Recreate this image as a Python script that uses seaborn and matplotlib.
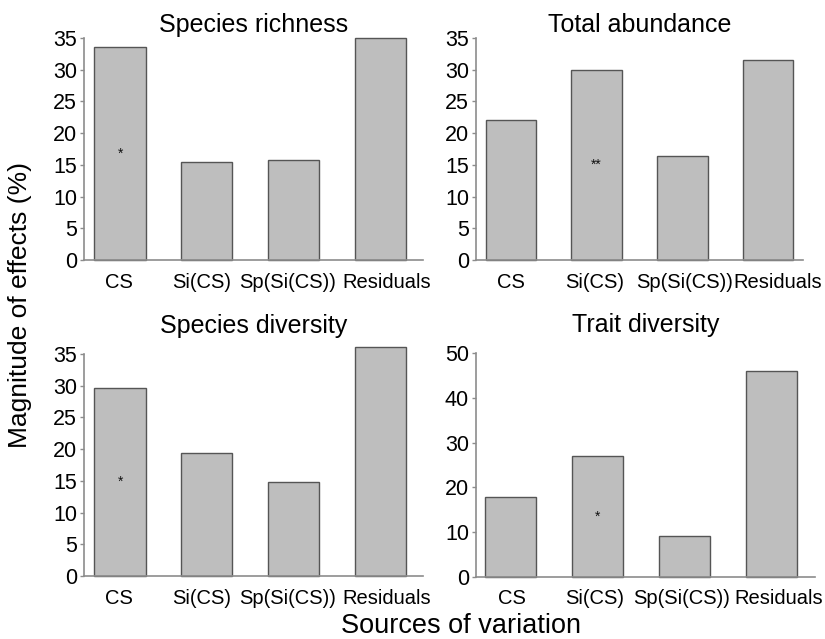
import matplotlib
matplotlib.use("Agg")
import matplotlib.pyplot as plt
import seaborn as sns
import pandas as pd

sns.set_style("white")
plt.rcParams['font.family'] = ['Liberation Sans', 'DejaVu Sans']
plt.rcParams['text.color'] = 'black'
plt.rcParams['xtick.labelcolor'] = 'black'
plt.rcParams['ytick.labelcolor'] = 'black'

sources = ["CS", "Si(CS)", "Sp(Si(CS))", "Residuals"]
titles = ["Species richness", "Total abundance", "Species diversity", "Trait diversity"]
richness = [33.6, 15.5, 15.8, 35.0]
abundance = [22.0, 29.9, 16.4, 31.6]
sp_diversity = [29.7, 19.4, 14.8, 36.1]
trait_diversity = [17.8, 27.1, 9.2, 45.9]
signif_richness = ["*", "", "", ""]
signif_abundance = ["", "**", "", ""]
signif_sp_diversity = ["*", "", "", ""]
signif_trait = ["", "*", "", ""]

panels = [
    (titles[0], richness, signif_richness, 35, 5),
    (titles[1], abundance, signif_abundance, 35, 5),
    (titles[2], sp_diversity, signif_sp_diversity, 35, 5),
    (titles[3], trait_diversity, signif_trait, 50, 10),
]

W, H = 825, 639
fig = plt.figure(figsize=(W / 100, H / 100), dpi=100)

# axes boxes in pixels: left, right, top, bottom
boxes = [(84, 423, 38, 260), (476, 803, 38, 260), (84, 423, 354, 576), (476, 815, 353, 577)]
xlims = [(-0.415, 3.49), (-0.41, 3.41), (-0.415, 3.49), (-0.40, 3.50)]
title_pads = [4, 4, 15, 15]
# small horizontal nudges of category labels (in category units)
label_nudges = [(-0.01, -0.057, -0.075, 0.075), (0.0, -0.023, 0.023, 0.11),
                (-0.01, -0.057, -0.07, 0.075), (0.01, -0.03, -0.03, 0.086)]

for (title, vals, sig, ymax, step), (l, r, t, b), xl, tp, nd in zip(panels, boxes, xlims, title_pads, label_nudges):
    ax = fig.add_axes([l / W, 1 - b / H, (r - l) / W, (b - t) / H])
    df = pd.DataFrame({"source": sources, "value": vals})
    sns.barplot(data=df, x="source", y="value", color="#bebebe", saturation=1,
                edgecolor="#555555", linewidth=1.0, width=0.59, ax=ax)
    for p in ax.patches:
        p.set_clip_on(False)
    ax.set_xticks([i + d for i, d in enumerate(nd)])
    ax.set_xticklabels(sources)
    ax.set_xlim(*xl)
    ax.set_ylim(0, ymax)
    ax.set_yticks(range(0, ymax + 1, step))
    ax.set_xlabel("")
    ax.set_ylabel("")
    ax.set_title(title, fontsize=18, pad=tp)
    for s in ["top", "right"]:
        ax.spines[s].set_visible(False)
    for s in ["left", "bottom"]:
        ax.spines[s].set_color("#8c8c8c")
        ax.spines[s].set_linewidth(1.2)
    ax.tick_params(axis="x", length=0, pad=9, labelsize=14.5)
    ax.tick_params(axis="y", length=3, width=1, color="#8c8c8c", pad=2, labelsize=15.5, left=True)
    for i, (v, s) in enumerate(zip(vals, sig)):
        if s:
            ax.text(i, v / 2, s, ha="center", va="center", fontsize=10, color="#111111")

fig.text(20 / W, 1 - 305 / H, "Magnitude of effects (%)", rotation=90, ha="center", va="center", fontsize=19)
fig.text(461 / W, 1 - 626 / H, "Sources of variation", ha="center", va="center", fontsize=19.5)

fig.savefig("out.png", dpi=100)
